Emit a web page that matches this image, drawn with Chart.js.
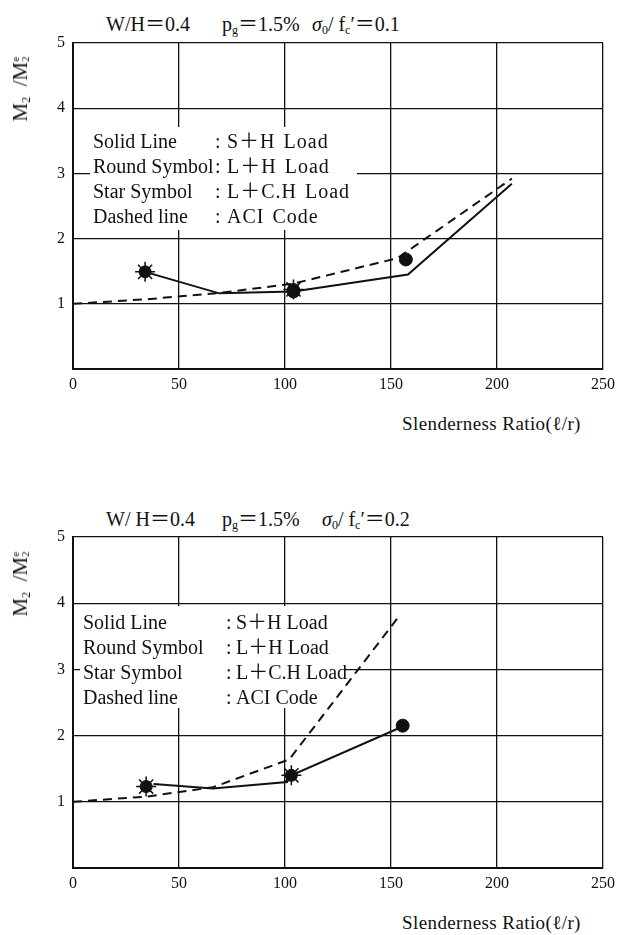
<!DOCTYPE html>
<html>
<head>
<meta charset="utf-8">
<script src="https://cdn.jsdelivr.net/npm/chart.js@4"></script>
<style>
body{margin:0;background:#fff;width:621px;height:935px;position:relative;overflow:hidden;font-family:"Liberation Serif","Noto Sans CJK JP",serif;color:#111;}
.box{position:absolute;}
.t{position:absolute;font-size:20px;line-height:24px;white-space:nowrap;}
.t sub{font-size:12px;vertical-align:-3px;}
.ylab{position:absolute;font-size:21px;line-height:20px;white-space:nowrap;transform:translate(-50%,-50%) rotate(-90deg);}
.ylab sub{font-size:12px;vertical-align:-3px;}
.ss{display:inline-block;font-size:11px;line-height:10px;vertical-align:-2px;text-align:center;}
.xlab{position:absolute;font-size:19px;letter-spacing:0.4px;white-space:nowrap;}
.lg{position:absolute;font-size:20px;line-height:25px;white-space:nowrap;}
.wide{letter-spacing:1px;word-spacing:2px;}
</style>
</head>
<body>

<!-- top chart -->
<div class="t" style="left:106px;top:12px;">W/H＝0.4</div>
<div class="t" style="left:222px;top:12px;">p<sub>g</sub>＝1.5%</div>
<div class="t" style="left:312px;top:12px;"><i>σ</i><sub>0</sub>/ f<sub>c</sub>′＝0.1</div>
<div class="box" style="left:0;top:0;width:621px;height:400px;"><canvas id="chartTop"></canvas></div>
<div class="ylab" style="left:23px;top:89px;">M<sub>2</sub>&ensp;/M<span class="ss">e<br>2</span></div>
<div class="lg" style="left:93px;top:129px;">Solid Line<br>Round Symbol<br>Star Symbol<br>Dashed line</div>
<div class="lg" style="left:215px;top:129px;">:<br>:<br>:<br>:</div>
<div class="lg wide" style="left:227px;top:129px;">S＋H Load<br>L＋H Load<br>L＋C.H Load<br>ACI Code</div>
<div class="xlab" style="left:402px;top:413px;">Slenderness Ratio(ℓ/r)</div>

<!-- bottom chart -->
<div class="t" style="left:106px;top:507px;">W/ H＝0.4</div>
<div class="t" style="left:222px;top:507px;">p<sub>g</sub>＝1.5%</div>
<div class="t" style="left:322px;top:507px;"><i>σ</i><sub>0</sub>/ f<sub>c</sub>′＝0.2</div>
<div class="box" style="left:0;top:494px;width:621px;height:405px;"><canvas id="chartBottom"></canvas></div>
<div class="ylab" style="left:23px;top:584px;">M<sub>2</sub>&ensp;/M<span class="ss">e<br>2</span></div>
<div class="lg" style="left:83px;top:610px;">Solid Line<br>Round Symbol<br>Star Symbol<br>Dashed line</div>
<div class="lg" style="left:226px;top:610px;">:<br>:<br>:<br>:</div>
<div class="lg" style="left:236px;top:610px;">S＋H Load<br>L＋H Load<br>L＋C.H Load<br>ACI Code</div>
<div class="xlab" style="left:402px;top:912px;">Slenderness Ratio(ℓ/r)</div>

<script>
// tick values
const xTicks = [0, 50, 100, 150, 200, 250];
const yTicks = [0, 1, 2, 3, 4, 5];

// sigma0/fc' = 0.1
const topSolidX = [34, 69, 104, 158, 207];
const topSolidY = [1.49, 1.16, 1.19, 1.45, 2.84];
const topDashedX = [0, 35, 70, 104, 153, 207];
const topDashedY = [1.0, 1.07, 1.17, 1.31, 1.70, 2.92];
const topStarX = [34, 104];
const topStarY = [1.49, 1.22];
const topCircleX = [104, 157];
const topCircleY = [1.19, 1.68];

// sigma0/fc' = 0.2
const botSolidX = [38, 66, 101, 103, 155];
const botSolidY = [1.27, 1.20, 1.30, 1.40, 2.13];
const botDashedX = [0, 35, 66, 102, 153];
const botDashedY = [1.0, 1.08, 1.22, 1.64, 3.77];
const botStarX = [34.5, 103];
const botStarY = [1.23, 1.40];
const botCircleX = [155.5];
const botCircleY = [2.15];

function pts(xs, ys){
return xs.map((x, i) => ({x: x, y: ys[i]}));
}

// white patch behind the key text, drawn over the grid but under the lines
const keyPatch = {
id: 'keyPatch',
beforeDatasetsDraw(chart, args, o){
const c = chart.ctx;
c.save();
c.fillStyle = '#fff';
c.fillRect(o.x0, o.y0, o.x1 - o.x0, o.y1 - o.y0);
c.restore();
}
};

function makeChart(id, solid, dashed, stars, circles, patch, bottomH){

new Chart(document.getElementById(id), {
type: 'scatter',
plugins: [keyPatch],
data: {
datasets: [
{
data: dashed,
showLine: true,
borderColor: '#111',
borderWidth: 2,
borderDash: [9, 6],
pointRadius: 0,
tension: 0
},
{
data: solid,
showLine: true,
borderColor: '#111',
borderWidth: 2,
pointRadius: 0,
tension: 0
},
{
data: stars,
pointStyle: 'circle',
pointRadius: 6,
backgroundColor: '#111',
borderColor: '#111'
},
{
data: stars,
pointStyle: 'star',
pointRadius: 10,
borderWidth: 1.5,
borderColor: '#111'
},
{
data: circles,
pointStyle: 'circle',
pointRadius: 6.5,
backgroundColor: '#111',
borderColor: '#111'
}
]
},
options: {
responsive: true,
maintainAspectRatio: false,
animation: false,
events: [],
layout: {padding: {top: 43, right: 12, left: 0, bottom: 0}},
plugins: {legend: {display: false}, tooltip: {enabled: false}, keyPatch: patch},
scales: {
x: {
type: 'linear',
min: 0,
max: 250,
afterBuildTicks: s => { s.ticks = xTicks.map(v => ({value: v})); },
afterFit: s => { s.height = bottomH; },
grid: {color: '#111', lineWidth: 1.3, drawTicks: false},
border: {color: '#111', width: 2},
ticks: {color: '#111', padding: 6, font: {family: 'Liberation Serif', size: 16}}
},
y: {
min: 0,
max: 5,
afterBuildTicks: s => { s.ticks = yTicks.map(v => ({value: v})); },
afterFit: s => { s.width = 73; },
grid: {color: '#111', lineWidth: 1.3, drawTicks: false},
border: {color: '#111', width: 2},
ticks: {color: '#111', padding: 8, font: {family: 'Liberation Serif', size: 16},
callback: v => v === 0 ? '' : v}
}
}
}
});

}

makeChart('chartTop', pts(topSolidX, topSolidY), pts(topDashedX, topDashedY), pts(topStarX, topStarY), pts(topCircleX, topCircleY),
{x0: 90, y0: 127, x1: 357, y1: 230}, 31);
makeChart('chartBottom', pts(botSolidX, botSolidY), pts(botDashedX, botDashedY), pts(botStarX, botStarY), pts(botCircleX, botCircleY),
{x0: 80, y0: 112, x1: 345, y1: 214}, 31);
</script>
</body>
</html>
